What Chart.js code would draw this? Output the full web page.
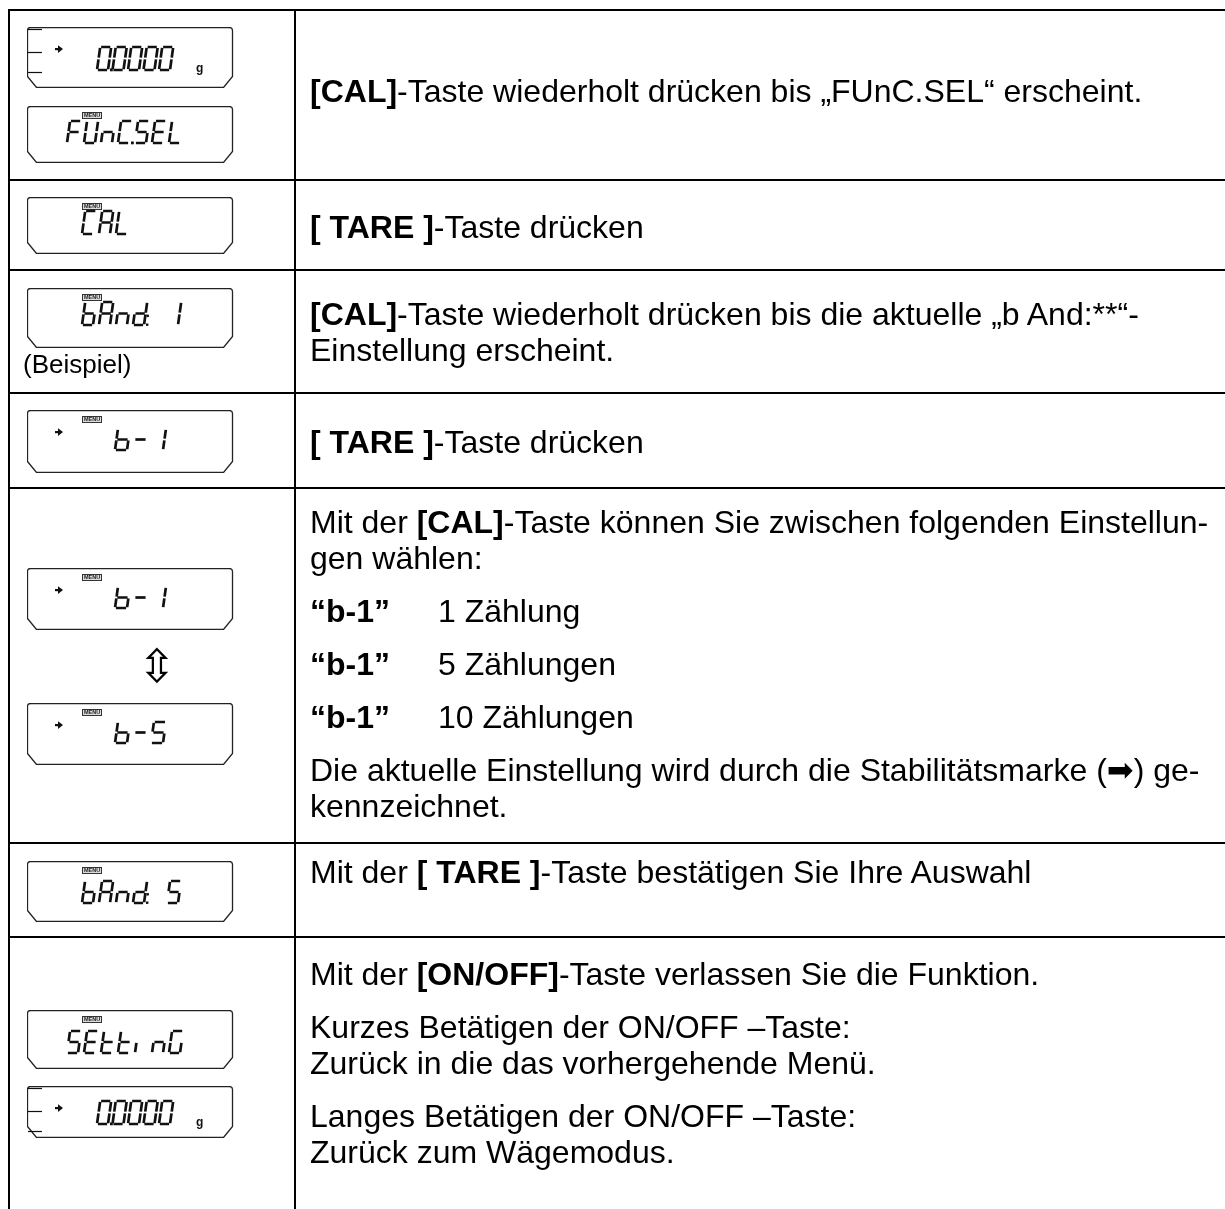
<!DOCTYPE html>
<html>
<head>
<meta charset="UTF-8">
<title>FUnC.SEL - bAnd</title>
<script src="https://cdn.jsdelivr.net/npm/chart.js@4.4.1/dist/chart.umd.min.js"></script>
<style>
html, body { margin:0; background:#fff; }
body { overflow:hidden; width:1225px; height:1209px; position:relative; }
#tbl { position:absolute; left:8px; top:9px; width:1320px; border-left:2px solid #000;
       font-family:"Liberation Sans", Arial, sans-serif; color:#000; }
.row { display:flex; border-top:2px solid #000; box-sizing:border-box; }
.lc { width:286px; flex:none; border-right:2px solid #000; box-sizing:border-box; padding-left:17px; }
.lc canvas { display:block; }
.rc { flex:1; padding-left:14px; font-size:32px; line-height:36px; white-space:nowrap; }
.rc p { margin:0; }
.rc p + p { margin-top:17px; }
.tab { display:inline-block; width:128px; }
.note { font-size:26px; line-height:30px; margin-left:-4px; }
.swap { height:73px; width:40px; margin-left:110px; text-align:center;
        font-family:"DejaVu Sans"; font-size:46px; line-height:73px; }
</style>
</head>
<body>
<div id="tbl"></div>

<script>
// what the balance display shows in each step
var rowDisplays = [
  ['0.0000', 'FUnC.SEL'],
  ['CAL'],
  ['bAnd: 1'],
  ['b-1'],
  ['b-1', 'b-5'],
  ['bAnd: 5'],
  ['SEttinG', '0.0000']
];

var settingCodes  = ['b-1', 'b-1', 'b-1'];
var settingCounts = ['1 Zählung', '5 Zählungen', '10 Zählungen'];

var rowTexts = [
  ['<b>[CAL]</b>-Taste wiederholt drücken bis „FUnC.SEL“ erscheint.'],
  ['<b>[ TARE ]</b>-Taste drücken'],
  ['<b>[CAL]</b>-Taste wiederholt drücken bis die aktuelle „b And:**“-<br>Einstellung erscheint.'],
  ['<b>[ TARE ]</b>-Taste drücken'],
  ['Mit der <b>[CAL]</b>-Taste können Sie zwischen folgenden Einstellun-<br>gen wählen:'],
  ['Mit der <b>[ TARE ]</b>-Taste bestätigen Sie Ihre Auswahl'],
  ['Mit der <b>[ON/OFF]</b>-Taste verlassen Sie die Funktion.',
   'Kurzes Betätigen der ON/OFF –Taste:<br>Zurück in die das vorhergehende Menü.',
   'Langes Betätigen der ON/OFF –Taste:<br>Zurück zum Wägemodus.']
];
settingCodes.forEach(function (c, i) {
  rowTexts[4].push('<span class="tab"><b>“' + c + '”</b></span>' + settingCounts[i]);
});
rowTexts[4].push('Die aktuelle Einstellung wird durch die Stabilitätsmarke (<span style="font-family:\'DejaVu Sans\'">➡</span>) ge-<br>kennzeichnet.');

var weightReading = '0.0000';
var stableCodes = ['b-1', 'b-5'];

// layout
var rowHeights = [170, 90, 123, 95, 355, 94, 320];
var textTop    = [62, 28, 25, 30, 15, 10, 18];
var boxLayout = [
  [{h:60, mt:16, ty:20}, {h:56, mt:18, ty:15}],
  [{h:56, mt:16, ty:14}],
  [{h:59, mt:17, ty:14}],
  [{h:62, mt:16, ty:19}],
  [{h:61, mt:79, ty:19}, {h:61, mt:0, ty:19}],
  [{h:60, mt:17, ty:20}],
  [{h:58, mt:72, ty:21}, {h:51, mt:17, ty:15}]
];
var glyphFit = {
  '0.0000':   {x0:70, pitch:15.5, W:11, H:23},
  'FUnC.SEL': {x0:40, pitch:17, W:11, H:22},
  'CAL':      {x0:55, pitch:17, W:11, H:23},
  'bAnd: 1':  {x0:55, pitch:17, W:11, H:23},
  'b-1':      {x0:88, pitch:18, W:12, H:21},
  'b-5':      {x0:88, pitch:18, W:12, H:21},
  'bAnd: 5':  {x0:55, pitch:17, W:11, H:22},
  'SEttinG':  {x0:40, pitch:17, W:11, H:22}
};

var SEG = {
  '0':'abcdef', '1':'bc', '5':'acdfg', 'S':'acdfg', 'F':'aefg', 'U':'bcdef', 'n':'ceg',
  'C':'adef', 'E':'adefg', 'L':'def', 'A':'abcefg', 'b':'cdefg', 'd':'bcdeg', '-':'g',
  't':'defg', 'i':'e', 'G':'acdef'
};

function drawGlyph(ctx, ch, x, y, W, H, k) {
  var segs = SEG[ch];
  if (!segs) return;
  var g = 0.9, m = H / 2;
  var S = {
    a: [[g, 0], [W - g, 0]], b: [[W, g], [W, m - g]], c: [[W, m + g], [W, H - g]],
    d: [[g, H], [W - g, H]], e: [[0, m + g], [0, H - g]], f: [[0, g], [0, m - g]],
    g: [[g, m], [W - g, m]]
  };
  ctx.beginPath();
  for (var i = 0; i < segs.length; i++) {
    var s = S[segs[i]];
    ctx.moveTo(x + s[0][0] + (H - s[0][1]) * k, y + s[0][1]);
    ctx.lineTo(x + s[1][0] + (H - s[1][1]) * k, y + s[1][1]);
  }
  ctx.stroke();
}

function drawLcd(ctx, text, lay) {
  var w = 205.5, h = lay.h + 0.5, r = 3, cw = 9, chh = 11;
  ctx.save();
  // bezel
  ctx.strokeStyle = '#222';
  ctx.lineWidth = 1.3;
  ctx.beginPath();
  ctx.moveTo(0.5, h - chh);
  ctx.lineTo(0.5, 0.5 + r);
  ctx.arcTo(0.5, 0.5, 0.5 + r, 0.5, r);
  ctx.lineTo(w - r, 0.5);
  ctx.arcTo(w, 0.5, w, 0.5 + r, r);
  ctx.lineTo(w, h - chh);
  ctx.lineTo(w - cw, h);
  ctx.lineTo(0.5 + cw, h);
  ctx.closePath();
  ctx.stroke();

  var fit = glyphFit[text];
  ctx.fillStyle = '#111';
  ctx.strokeStyle = '#111';

  if (text === weightReading) {
    ctx.lineWidth = 1.2;
    [2, 25, 45].forEach(function (yy) {
      ctx.beginPath(); ctx.moveTo(1, yy + 0.5); ctx.lineTo(15, yy + 0.5); ctx.stroke();
    });
    ctx.font = 'bold 12px "Liberation Sans", Arial';
    ctx.fillText('g', 169, lay.ty + fit.H + 2);
  } else {
    // MENU label
    ctx.fillStyle = '#ddd';
    ctx.fillRect(55, 6, 20, 7);
    ctx.lineWidth = 1;
    ctx.strokeStyle = '#333';
    ctx.strokeRect(55.5, 6.5, 19, 6);
    ctx.fillStyle = '#222';
    ctx.font = 'bold 5.5px "Liberation Sans", Arial';
    ctx.textAlign = 'center';
    ctx.textBaseline = 'middle';
    ctx.fillText('MENU', 65, 9.8);
    ctx.textAlign = 'left';
    ctx.textBaseline = 'alphabetic';
    ctx.fillStyle = '#111';
    ctx.strokeStyle = '#111';
  }
  if (text === weightReading || stableCodes.indexOf(text) >= 0) {
    var cy = 22;
    ctx.fillRect(28, cy - 1, 4, 2.2);
    ctx.beginPath();
    ctx.moveTo(31, cy - 3.8); ctx.lineTo(36, cy + 0.1); ctx.lineTo(31, cy + 4);
    ctx.closePath(); ctx.fill();
  }

  // segment characters
  ctx.lineWidth = 2.7;
  ctx.lineCap = 'butt';
  var k = 0.14, x = fit.x0, y = lay.ty, last = x;
  for (var i = 0; i < text.length; i++) {
    var ch = text[i];
    if (ch === '.') {
      ctx.fillRect(last + fit.W + 2, y + fit.H - 1.5, 2.8, 2.8);
      continue;
    }
    if (ch === ':') {
      ctx.fillRect(last + fit.W + 2.5, y + fit.H * 0.55, 2.4, 2.4);
      ctx.fillRect(last + fit.W + 2, y + fit.H - 1.5, 2.4, 2.4);
      continue;
    }
    drawGlyph(ctx, ch, x, y, fit.W, fit.H, k);
    last = x;
    x += fit.pitch;
  }
  ctx.restore();
}

function makeLcd(parent, text, lay) {
  var cv = document.createElement('canvas');
  cv.width = 207;
  cv.height = lay.h + 1;
  cv.style.marginTop = lay.mt + 'px';
  parent.appendChild(cv);
  new Chart(cv.getContext('2d'), {
    type: 'scatter',
    data: { datasets: [] },
    options: {
      responsive: false,
      animation: false,
      events: [],
      layout: { padding: 0 },
      plugins: { legend: { display: false }, tooltip: { enabled: false } },
      scales: { x: { display: false }, y: { display: false } }
    },
    plugins: [{
      id: 'lcd',
      afterDraw: function (chart) { drawLcd(chart.ctx, text, lay); }
    }]
  });
}

var tbl = document.getElementById('tbl');
rowDisplays.forEach(function (disp, r) {
  var row = document.createElement('div');
  row.className = 'row';
  row.style.height = rowHeights[r] + 'px';
  var lc = document.createElement('div');
  lc.className = 'lc';
  var rc = document.createElement('div');
  rc.className = 'rc';
  rc.style.paddingTop = textTop[r] + 'px';
  row.appendChild(lc);
  row.appendChild(rc);
  tbl.appendChild(row);

  disp.forEach(function (t, j) {
    if (r === 4 && j === 1) {
      var sw = document.createElement('div');
      sw.className = 'swap';
      sw.textContent = '⇳';
      lc.appendChild(sw);
    }
    makeLcd(lc, t, boxLayout[r][j]);
  });
  if (r === 2) {
    var n = document.createElement('div');
    n.className = 'note';
    n.style.marginTop = '1px';
    n.textContent = '(Beispiel)';
    lc.appendChild(n);
  }
  rowTexts[r].forEach(function (html) {
    var p = document.createElement('p');
    p.innerHTML = html;
    rc.appendChild(p);
  });
});
</script>
</body>
</html>
